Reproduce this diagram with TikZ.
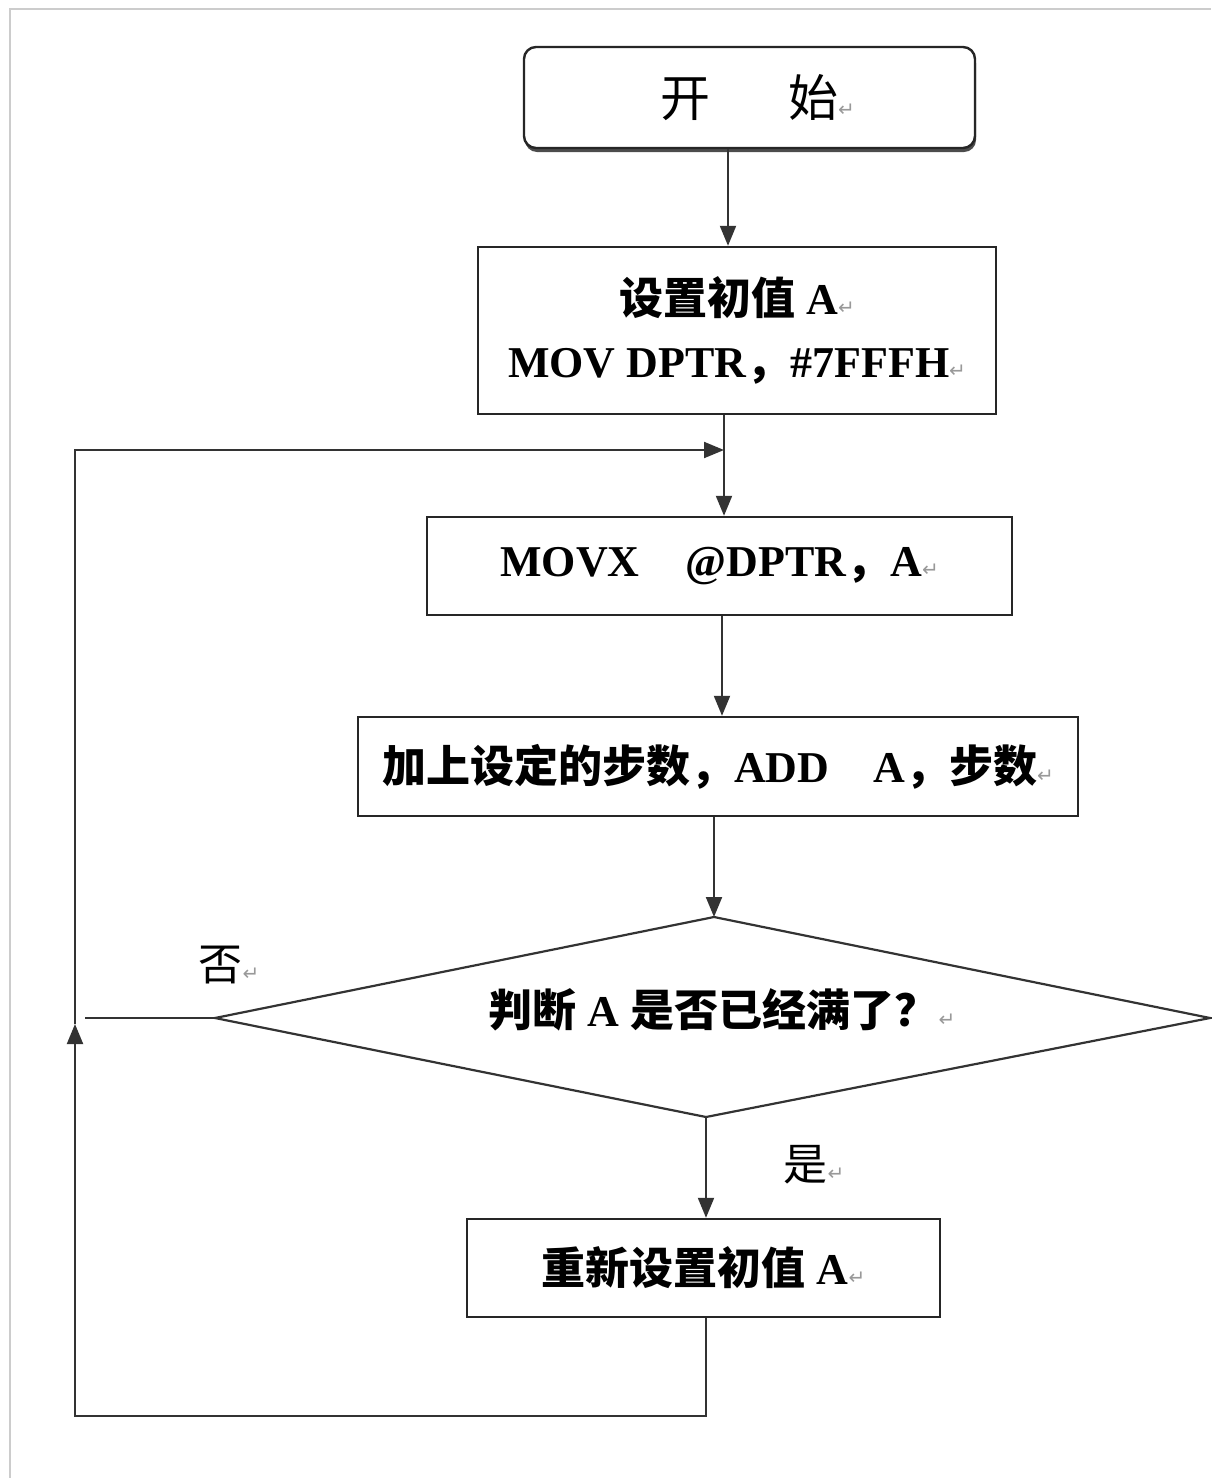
\documentclass[tikz,border=0pt]{standalone}
\usepackage{fontspec}
\setmainfont{Liberation Serif}
\newfontfamily\cjk{Noto Sans CJK SC}
\newfontfamily\symfont{DejaVu Sans}
\usetikzlibrary{arrows.meta,shadows}
\newcommand\retmark{{\symfont\mdseries\fontsize{10}{10}\selectfont\color{black!40}↵}}
\tikzset{
  box/.style={draw=black!85, line width=1.2pt, fill=white, inner sep=0pt, align=center,
    font=\bfseries\fontsize{22}{31.5}\selectfont},
  conn/.style={line width=1pt, draw=black!80},
  arr/.style={conn, -{Triangle[length=10pt,width=8pt]}},
  lab/.style={font=\cjk\fontsize{22}{26}\selectfont, inner sep=0pt},
  diashape/.style={draw=black!80, line width=1.1pt, fill=white, line join=miter},
  diatext/.style={inner sep=0pt, align=center, font=\bfseries\fontsize{22}{26}\selectfont},
}
\begin{document}
\begin{tikzpicture}[x=0.5pt,y=-0.5pt]
\useasboundingbox (0,0) rectangle (1211,1478);
\draw[black!20, line width=1pt] (10,1478) -- (10,9) -- (1211,9);

\node[box, rounded corners=6pt, drop shadow={shadow xshift=0.5pt, shadow yshift=-2pt, fill=black!70, opacity=1},
  minimum width=225.5pt, minimum height=50.5pt, font=\cjk\fontsize{25}{28}\selectfont] (start) at (749.5,97.5)
  {\hspace{8pt}开\hspace{39pt}始\retmark};

\node[box, minimum width=259pt, minimum height=83.5pt] (b2) at (737,330.5)
  {{\cjk 设置初值} A\retmark\\MOV DPTR{\cjk ，}\#7FFFH\retmark};

\node[box, minimum width=292.5pt, minimum height=49pt] (b3) at (719.5,566)
  {MOVX\hspace{23pt}@DPTR{\cjk ，}A\retmark};

\node[box, minimum width=360pt, minimum height=49.5pt] (b4) at (718,766.5)
  {{\cjk 加上设定的步数，}ADD\hspace{22pt}A{\cjk ，步数}\retmark};

% decision diamond
\coordinate (dtop) at (714,917);
\coordinate (dright) at (1210,1018);
\coordinate (dbot) at (706,1117);
\coordinate (dleft) at (215,1018);
\draw[diashape] (dtop) -- (dright) -- (dbot) -- (dleft) -- cycle;
\node[diatext] (dec) at (722,1010)
  {{\cjk 判断} A {\cjk 是否已经满了？}\retmark};

\node[box, minimum width=236.5pt, minimum height=49pt] (b5) at (703.5,1268)
  {{\cjk 重新设置初值} A\retmark};

\node[lab] (no) at (229,965) {否\retmark};
\node[lab] (yes) at (814,1165) {是\retmark};

\coordinate (c1) at (728,0);
\coordinate (c3) at (722,0);
\coordinate (join) at (724,450);
\coordinate (bl) at (75,1416);
\coordinate (uparr) at (75,1024);
\coordinate (noend) at (85,1018);

\draw[arr] (start.south -| c1) -- (b2.north -| c1);
\draw[arr] (b2.south -| join) -- (b3.north -| join);
\draw[arr] (b3.south -| c3) -- (b4.north -| c3);
\draw[arr] (b4.south -| dtop) -- (dtop);
\draw[arr] (dbot) -- (b5.north -| dbot);
\draw[conn] (dleft) -- (noend);
\draw[arr] (b5.south -| dbot) |- (bl) -- (uparr);
\draw[arr] (uparr) |- (join);
\end{tikzpicture}
\end{document}
